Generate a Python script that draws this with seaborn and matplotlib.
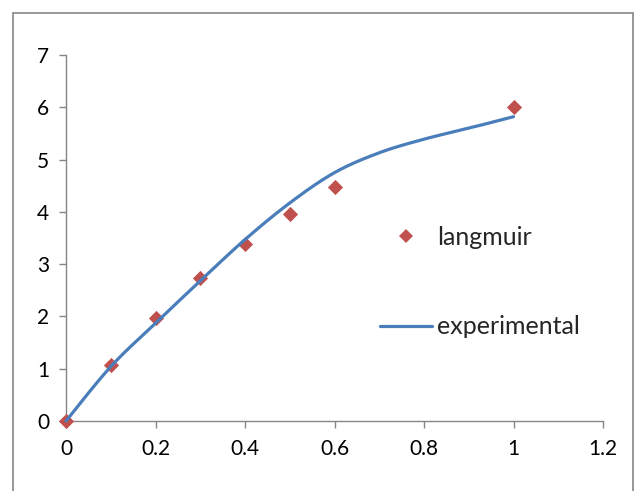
import numpy as np
import pandas as pd
import matplotlib
matplotlib.use("Agg")
import matplotlib.pyplot as plt
from matplotlib.patches import Rectangle
from matplotlib.lines import Line2D
import seaborn as sns

# ---- data ----
langmuir_x = [0, 0.1, 0.2, 0.3, 0.4, 0.5, 0.6, 1.0]
langmuir_y = [0, 1.07, 1.97, 2.73, 3.38, 3.96, 4.47, 6.0]
experimental_x = [0, 0.1, 0.2, 0.3, 0.4, 0.5, 0.6, 0.7, 0.8, 0.9, 1.0]
experimental_y = [0, 1.04, 1.87, 2.68, 3.47, 4.17, 4.75, 5.13, 5.39, 5.60, 5.82]
x_ticks = [0, 0.2, 0.4, 0.6, 0.8, 1, 1.2]
x_tick_labels = ["0", "0.2", "0.4", "0.6", "0.8", "1", "1.2"]
y_ticks = [0, 1, 2, 3, 4, 5, 6, 7]


def excel_smooth(xs, ys, n=30):
    """Bezier smoothing through the points (like a spreadsheet 'smoothed line')."""
    P = np.column_stack([xs, ys]).astype(float)
    out = [P[0]]
    t = np.linspace(0, 1, n)[1:]
    for i in range(len(P) - 1):
        p0 = P[i - 1] if i > 0 else P[i]
        p1, p2 = P[i], P[i + 1]
        p3 = P[i + 2] if i + 2 < len(P) else P[i + 1]
        c1 = p1 + (p2 - p0) / 6.0
        c2 = p2 - (p3 - p1) / 6.0
        seg = ((1 - t) ** 3)[:, None] * p1 + (3 * (1 - t) ** 2 * t)[:, None] * c1 \
            + (3 * (1 - t) * t ** 2)[:, None] * c2 + (t ** 3)[:, None] * p2
        out.extend(seg)
    out = np.array(out)
    return out[:, 0], out[:, 1]


sx, sy = excel_smooth(experimental_x, experimental_y)
df_line = pd.DataFrame({"x": sx, "y": sy})
df_pts = pd.DataFrame({"x": langmuir_x, "y": langmuir_y})

sns.set_theme(style="white")
plt.rcParams["font.family"] = ["Lato", "DejaVu Sans"]

red = "#C0504D"
blue = "#4A7EBB"
gray = "#868686"

fig = plt.figure(figsize=(6.34, 4.91), dpi=100)
ax = fig.add_axes([66 / 634, 1 - 421 / 491, (603 - 66) / 634, (421 - 55) / 491])

sns.scatterplot(data=df_pts, x="x", y="y", marker="D", s=60, color=red,
                edgecolor=red, linewidth=0, ax=ax, zorder=4, legend=False,
                clip_on=False)
sns.lineplot(data=df_line, x="x", y="y", sort=False, color=blue, linewidth=2.3,
             ax=ax, zorder=5, legend=False, estimator=None)
for ln in ax.lines:
    ln.set_clip_on(False)

ax.set_xlim(0, 1.2)
ax.set_ylim(0, 7)
ax.set_xticks(x_ticks)
ax.set_xticklabels(x_tick_labels)
ax.set_yticks(y_ticks)
ax.set_xlabel("")
ax.set_ylabel("")
for s in ["top", "right"]:
    ax.spines[s].set_visible(False)
for s in ["left", "bottom"]:
    ax.spines[s].set_color(gray)
    ax.spines[s].set_linewidth(1.0)
    ax.spines[s].set_zorder(1)
ax.tick_params(axis="both", which="both", direction="out", length=5, width=1,
               color=gray, labelsize=15, labelcolor="black", bottom=True, left=True)
ax.tick_params(axis="x", pad=8)
ax.tick_params(axis="y", pad=7)
ax.grid(False)
ax.patch.set_alpha(0)

handles = [
    Line2D([], [], marker="D", linestyle="none", color=red, markersize=7.5,
           markeredgewidth=0),
    Line2D([], [], color=blue, linewidth=2.3),
]
leg = ax.legend(handles, ["langmuir", "experimental"], frameon=False,
                fontsize=18, handlelength=2.08, handletextpad=0.2,
                labelspacing=2.65, loc="upper left",
                bbox_to_anchor=(380 / 634, 1 - 226 / 491),
                bbox_transform=fig.transFigure, borderpad=0, borderaxespad=0)

fig.patches.append(Rectangle((13 / 634, -0.1), (633 - 13) / 634, 1.1 - 13 / 491,
                             transform=fig.transFigure, fill=False,
                             edgecolor=gray, linewidth=1.2, zorder=0))

fig.savefig("out.png", dpi=100)
